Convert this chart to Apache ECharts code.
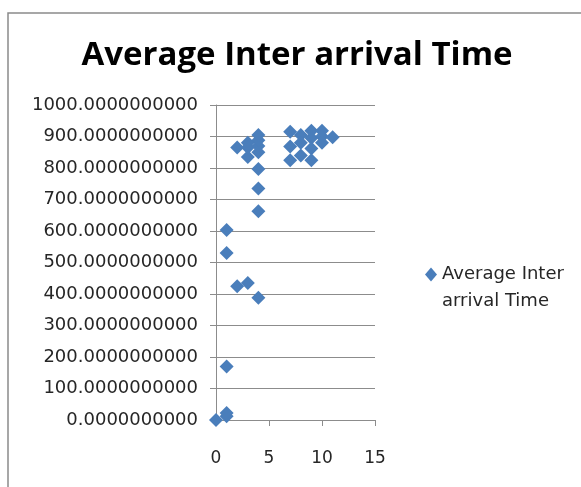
<!DOCTYPE html>
<html>
<head>
<meta charset="utf-8">
<script src="https://cdn.jsdelivr.net/npm/echarts@6/dist/echarts.min.js"></script>
<style>
  html, body { margin: 0; padding: 0; background: #fff; }
  #chart { width: 581px; height: 487px; }
</style>
</head>
<body>
<div id="chart"></div>
<script>
// Scatter of average inter-arrival time per run
const seriesName = 'Average Inter arrival Time';
const xValues = [0, 1, 1, 1, 1, 1, 2, 2, 3, 3, 3, 3, 4, 4, 4, 4, 4, 4, 4, 4,
                 7, 7, 7, 8, 8, 8, 9, 9, 9, 9, 10, 10, 10, 11];
const yValues = [0, 12, 22, 170, 530, 603, 425, 865, 435, 880, 835, 865, 388, 663, 735, 797, 850, 870, 888, 905,
                 915, 868, 825, 905, 880, 840, 918, 895, 862, 825, 918, 900, 880, 898];
const xTicks = [0, 5, 10, 15];
const yTicks = [0, 100, 200, 300, 400, 500, 600, 700, 800, 900, 1000];

const points = xValues.map((x, i) => [x, yValues[i]]);
const labelFont = 'DejaVu Sans';

const chart = echarts.init(document.getElementById('chart'));
chart.setOption({
  animation: false,
  title: {
    text: seriesName,
    left: 292,
    textAlign: 'center',
    top: 34,
    textStyle: { fontFamily: 'Open Sans', fontWeight: 'bold', fontSize: 33, color: '#000' }
  },
  graphic: [{
    type: 'rect',
    shape: { x: 8, y: 13, width: 620, height: 520 },
    style: { fill: 'none', stroke: '#8a8a8a', lineWidth: 1.5 },
    silent: true
  }],
  legend: {
    left: 420,
    top: 229,
    itemWidth: 12,
    itemHeight: 14,
    itemGap: 4,
    icon: 'diamond',
    // leading blank line keeps the marker level with the first text line
    formatter: () => ' \nAverage Inter\narrival Time',
    textStyle: { fontFamily: labelFont, fontSize: 18, color: '#262626', lineHeight: 27 }
  },
  grid: { left: 216, right: 206, top: 105, bottom: 67, containLabel: false },
  xAxis: {
    type: 'value',
    min: xTicks[0],
    max: xTicks[xTicks.length - 1],
    interval: 5,
    axisLine: { show: true, lineStyle: { color: '#8c8c8c', width: 1 } },
    axisTick: { show: true, length: 6, lineStyle: { color: '#8c8c8c' } },
    splitLine: { show: false },
    axisLabel: { margin: 30, fontFamily: labelFont, fontSize: 17, color: '#262626' }
  },
  yAxis: {
    type: 'value',
    min: yTicks[0],
    max: yTicks[yTicks.length - 1],
    interval: 100,
    axisLine: { show: true, lineStyle: { color: '#8c8c8c', width: 1 } },
    axisTick: { show: true, length: 6, lineStyle: { color: '#8c8c8c' } },
    splitLine: { show: true, lineStyle: { color: '#8c8c8c', width: 1 } },
    axisLabel: {
      margin: 18,
      fontFamily: labelFont,
      fontSize: 18,
      color: '#262626',
      formatter: v => v.toFixed(10)
    }
  },
  series: [{
    name: seriesName,
    type: 'scatter',
    symbol: 'diamond',
    symbolSize: 14,
    itemStyle: { color: '#4a7ebb', opacity: 1 },
    data: points
  }]
});
</script>
</body>
</html>
